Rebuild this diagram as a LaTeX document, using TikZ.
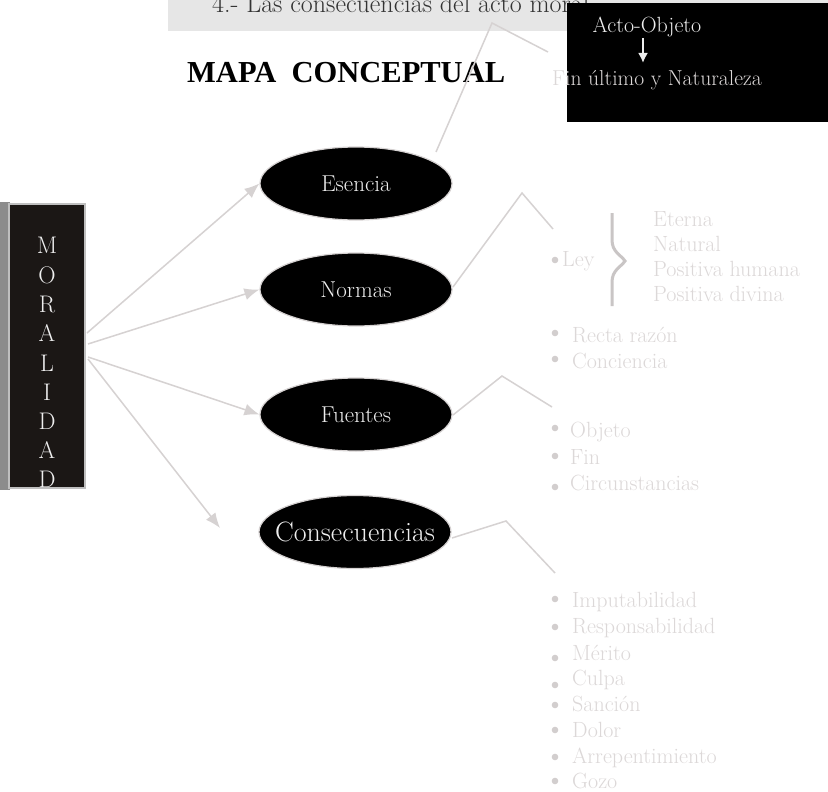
\documentclass[tikz,border=0pt]{standalone}
\usepackage{fontspec}
\newfontfamily\titlefont{Liberation Serif}
\usetikzlibrary{shapes.geometric,arrows.meta}
\definecolor{linegray}{HTML}{D6D2D2}
\definecolor{listgray}{HTML}{DCD8D8}
\definecolor{bulletgray}{HTML}{D2CECE}
\definecolor{bracegray}{HTML}{C9C5C5}
\definecolor{bannergray}{HTML}{E6E6E6}
\definecolor{boxdark}{HTML}{1B1715}
\definecolor{paletext}{HTML}{EEEEEE}
\tikzset{
  conn/.style={draw=linegray, line width=1.5pt},
  arr/.style={draw=linegray, line width=1.5pt, -{Latex[length=15pt,width=12pt]}, fill=linegray},
  oval/.style={ellipse, fill=black, draw=linegray, line width=1.2pt, minimum width=192pt, minimum height=73pt, inner sep=0pt, text=paletext, font=\fontsize{23}{27}\selectfont},
  item/.style={anchor=base west, inner sep=0pt, text=listgray, font=\fontsize{22}{26}\selectfont},
  letter/.style={inner sep=0pt, text=paletext, font=\fontsize{24}{28}\selectfont},
  bul/.style={fill=bulletgray}
}
\begin{document}
\begin{tikzpicture}[x=1pt,y=-1pt]
\clip (0,0) rectangle (828,792);
\fill[white] (0,0) rectangle (828,792);
% banner
\fill[bannergray] (168,0) rectangle (828,31);
\node[anchor=base west, inner sep=0pt, text=black!80, font=\fontsize{26}{30}\selectfont] (banner) at (212,13) {4.- Las consecuencias del acto moral};
% black box
\fill[black] (567,3) rectangle (828,122);
\node[anchor=center, inner sep=0pt, text=paletext, font=\fontsize{22}{26}\selectfont] (acto) at (647,27) {Acto-Objeto};
\coordinate (a1) at (643,38);
\coordinate (a2) at (643,63);
\draw[draw=paletext, line width=2pt, -{Latex[length=10pt,width=10pt]}] (a1) -- (a2);
\node[anchor=base west, inner sep=0pt, text=listgray, font=\fontsize{21.6}{26}\selectfont] (fin) at (552,85) {Fin último y Naturaleza};
% title
\node[anchor=base west, inner sep=0pt, font=\titlefont\bfseries\fontsize{30.5}{36}\selectfont] (title) at (187,82) {MAPA\ \ CONCEPTUAL};
% MORALIDAD box
\fill[black!45] (0,202) rectangle (10,490);
\draw[fill=boxdark, draw=black!25, line width=2pt] (9,204) rectangle (85,488);
\node[inner sep=0pt, minimum width=76pt, minimum height=284pt] (mor) at (47,346) {};
\node[letter] (l1) at (47,245) {M};
\node[letter] (l2) at (47,275) {O};
\node[letter] (l3) at (47,304) {R};
\node[letter] (l4) at (47,333) {A};
\node[letter] (l5) at (47,363) {L};
\node[letter] (l6) at (47,392) {I};
\node[letter] (l7) at (47,421) {D};
\node[letter] (l8) at (47,450) {A};
\node[letter] (l9) at (47,479) {D};
% ellipses
\node[oval] (esencia) at (356,183.5) {Esencia};
\node[oval] (normas) at (356,289.5) {Normas};
\node[oval] (fuentes) at (356,414.5) {Fuentes};
\node[oval, inner xsep=-14pt, font=\fontsize{28}{32}\selectfont] (consec) at (355,532) {Consecuencias};
% arrows from MORALIDAD
\coordinate (m1) at (87,333);
\coordinate (m2) at (88,344);
\coordinate (m3) at (88,357);
\coordinate (m4) at (88,359);
\coordinate (m4end) at (220,528);
\draw[arr] (m1) -- (esencia.west);
\draw[arr] (m2) -- (normas.west);
\draw[arr] (m3) -- (fuentes.west);
\draw[arr] (m4) -- (m4end);
% angled connectors
\coordinate (e0) at (436,152); \coordinate (e1) at (492,23); \coordinate (e2) at (548,52);
\coordinate (n0) at (453,287); \coordinate (n1) at (522,193); \coordinate (n2) at (553,229);
\coordinate (f0) at (453,415); \coordinate (f1) at (502,376); \coordinate (f2) at (552,407);
\coordinate (c0) at (452,538); \coordinate (c1) at (506,521); \coordinate (c2) at (555,573);
\draw[conn] (e0) -- (e1) -- (e2);
\draw[conn] (n0) -- (n1) -- (n2);
\draw[conn] (f0) -- (f1) -- (f2);
\draw[conn] (c0) -- (c1) -- (c2);
% Normas list
\fill[bul] (555,260) circle (3.3pt);
\node[item] (ley) at (562,266) {Ley};
\draw[draw=bracegray, line width=3pt] (612,213) -- (612,240) .. controls (612,252) and (621,255) .. (625,261) .. controls (621,267) and (612,270) .. (612,282) -- (612,306);
\node[item] (eterna) at (653,226) {Eterna};
\node[item] (natural) at (653,251) {Natural};
\node[item] (poshum) at (653,276) {Positiva humana};
\node[item] (posdiv) at (653,301) {Positiva divina};
\fill[bul] (555,333) circle (3.3pt);
\node[item] (recta) at (572,342) {Recta razón};
\fill[bul] (555,359) circle (3.3pt);
\node[item] (conc) at (572,368) {Conciencia};
% Fuentes list
\fill[bul] (555,428) circle (3.3pt);
\node[item] (objeto) at (570,437) {Objeto};
\fill[bul] (555,456) circle (3.3pt);
\node[item] (finf) at (570,464) {Fin};
\fill[bul] (555,487) circle (3.3pt);
\node[item] (circ) at (570,490) {Circunstancias};
% Consecuencias list
\fill[bul] (555,599) circle (3.3pt);
\node[item] (imp) at (572,607) {Imputabilidad};
\fill[bul] (555,627) circle (3.3pt);
\node[item] (resp) at (572,633) {Responsabilidad};
\fill[bul] (555,658) circle (3.3pt);
\node[item] (merito) at (572,660) {Mérito};
\fill[bul] (555,685) circle (3.3pt);
\node[item] (culpa) at (572,685) {Culpa};
\fill[bul] (555,705) circle (3.3pt);
\node[item] (sancion) at (572,711) {Sanción};
\fill[bul] (555,730) circle (3.3pt);
\node[item] (dolor) at (572,737) {Dolor};
\fill[bul] (555,757) circle (3.3pt);
\node[item] (arrep) at (572,763) {Arrepentimiento};
\fill[bul] (555,781) circle (3.3pt);
\node[item] (gozo) at (572,788) {Gozo};
\end{tikzpicture}
\end{document}
